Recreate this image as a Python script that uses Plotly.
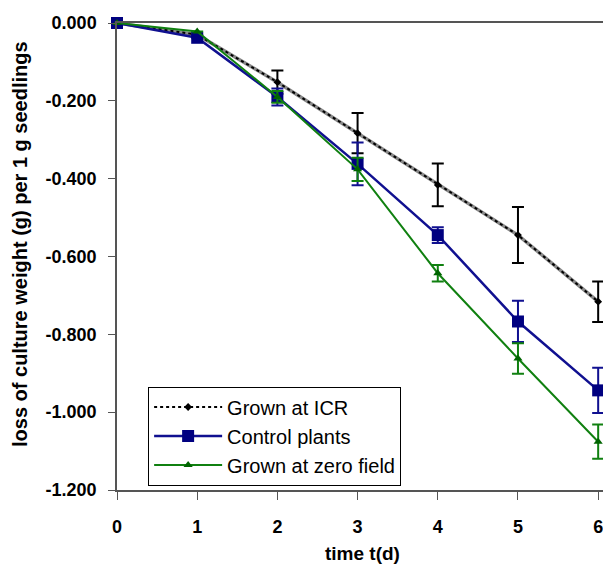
import plotly.graph_objects as go

# dados
days = [0, 1, 2, 3, 4, 5, 6]

icr = [0.000, -0.030, -0.152, -0.283, -0.416, -0.545, -0.716]
icr_err = [None, None, 0.030, 0.052, 0.055, 0.072, 0.052]

control = [0.000, -0.038, -0.190, -0.362, -0.545, -0.767, -0.944]
control_err = [None, None, 0.022, 0.055, 0.020, 0.053, 0.058]

zero = [0.000, -0.022, -0.190, -0.376, -0.643, -0.862, -1.076]
zero_err = [None, None, 0.015, 0.030, 0.021, 0.039, 0.044]

xtick_text = ['<b>%d</b>' % d for d in days]
ytick_vals = [0, -0.2, -0.4, -0.6, -0.8, -1.0, -1.2]
ytick_text = ['<b>0.000</b>', '<b>-0.200</b>', '<b>-0.400</b>', '<b>-0.600</b>',
              '<b>-0.800</b>', '<b>-1.000</b>', '<b>-1.200</b>']

fig = go.Figure()

# linha cinza por baixo para dar o efeito "hachurado" da série ICR
fig.add_trace(go.Scatter(
    x=days, y=icr, mode='lines',
    line=dict(color='#8a8a8a', width=3.5),
    showlegend=False, hoverinfo='skip', cliponaxis=False
))
fig.add_trace(go.Scatter(
    x=days, y=icr, mode='lines+markers',
    name='Grown at ICR',
    line=dict(color='black', width=2, dash='dot'),
    marker=dict(symbol='diamond', size=6, color='black'),
    error_y=dict(type='data', array=icr_err, color='black', thickness=2, width=6),
    cliponaxis=False
))
fig.add_trace(go.Scatter(
    x=days, y=control, mode='lines+markers',
    name='Control plants',
    line=dict(color='#101090', width=2.5),
    marker=dict(symbol='square', size=12, color='#000080'),
    error_y=dict(type='data', array=control_err, color='#101090', thickness=2, width=6),
    cliponaxis=False
))
fig.add_trace(go.Scatter(
    x=days, y=zero, mode='lines+markers',
    name='Grown at zero field',
    line=dict(color='#108010', width=2),
    marker=dict(symbol='triangle-up', size=8, color='#006400'),
    error_y=dict(type='data', array=zero_err, color='#108010', thickness=2, width=6),
    cliponaxis=False
))

# a página tem 8px de margem no body, por isso a figura é um pouco menor
fig.update_layout(
    width=603, height=557,
    margin=dict(l=109, r=0, t=15, b=75),
    paper_bgcolor='white', plot_bgcolor='white',
    font=dict(family='Arial, Liberation Sans', color='black'),
    showlegend=True,
    legend=dict(
        x=0.063, y=0.1156, xanchor='left', yanchor='middle',
        bordercolor='black', borderwidth=1, bgcolor='white',
        font=dict(size=20), tracegroupgap=0, itemwidth=68
    ),
    xaxis=dict(
        range=[0, 6.16], tickvals=days, ticktext=xtick_text,
        showgrid=False, zeroline=False, automargin=False,
        showline=True, linecolor='#555', linewidth=1.5, mirror=True,
        ticks='outside', ticklen=8, tickcolor='#555',
        tickfont=dict(size=18), ticklabelstandoff=12
    ),
    yaxis=dict(
        range=[-1.2, 0], tickvals=ytick_vals, ticktext=ytick_text,
        showgrid=False, zeroline=False, automargin=False,
        showline=True, linecolor='#555', linewidth=1.5,
        ticks='outside', ticklen=7, tickcolor='#555',
        tickfont=dict(size=18), ticklabelstandoff=8
    ),
    annotations=[
        dict(text='<b>time t(d)</b>', xref='paper', yref='paper',
             x=(362 - 117) / 494, y=-(553 - 490) / 467,
             xanchor='center', yanchor='middle', showarrow=False,
             font=dict(size=19)),
        dict(text='<b>loss of culture weight (g) per 1 g seedlings</b>',
             xref='paper', yref='paper',
             x=-(117 - 20) / 494, y=(490 - 244) / 467,
             xanchor='center', yanchor='middle', showarrow=False,
             textangle=-90, font=dict(size=20)),
    ],
)

fig.write_html('out.html')
